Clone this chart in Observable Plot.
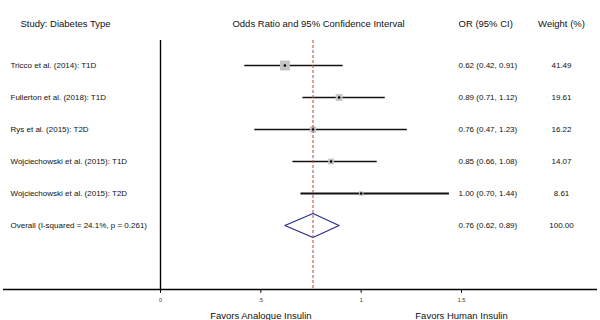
<!DOCTYPE html>
<html><head><meta charset="utf-8">
<script src="https://cdn.jsdelivr.net/npm/d3@7"></script>
<script src="https://cdn.jsdelivr.net/npm/@observablehq/plot@0.6"></script>
<style>body{margin:0;background:#fff} svg{display:block}</style>
</head><body><div id="chart"></div>
<script>
// ---- data ----
const studies = ["Tricco et al. (2014): T1D", "Fullerton et al. (2018): T1D", "Rys et al. (2015): T2D", "Wojciechowski et al. (2015): T1D", "Wojciechowski et al. (2015): T2D"];
const oddsRatio = [0.62, 0.89, 0.76, 0.85, 1.00];
const ciLow = [0.42, 0.71, 0.47, 0.66, 0.70];
const ciHigh = [0.91, 1.12, 1.23, 1.08, 1.44];
const weights = [41.49, 19.61, 16.22, 14.07, 8.61];
const overallLabel = "Overall (I-squared = 24.1%, p = 0.261)";
const overallOR = [0.76];
const overallLow = [0.62];
const overallHigh = [0.89];
const overallWeight = [100.00];
const xTicks = [0, 0.5, 1, 1.5];
const xTickLabels = ["0", ".5", "1", "1.5"];
const headers = ["Study: Diabetes Type", "Odds Ratio and 95% Confidence Interval", "OR (95% CI)", "Weight (%)"];
const sideLabels = ["Favors Analogue Insulin", "Favors Human Insulin"];
const sideAt = [0.5, 1.5];

// ---- build tables ----
const fmt = d3.format(".2f");
const rows = studies.map((s, i) => ({study: s, or: oddsRatio[i], lo: ciLow[i], hi: ciHigh[i], w: weights[i], row: i + 1}));
const overallRow = studies.length + 1;
const ciText = (o, l, h) => `${fmt(o)} (${fmt(l)}, ${fmt(h)})`;
const textRows = [
  ...rows.map(d => ({label: d.study, ci: ciText(d.or, d.lo, d.hi), w: fmt(d.w), row: d.row})),
  {label: overallLabel, ci: ciText(overallOR[0], overallLow[0], overallHigh[0]), w: fmt(overallWeight[0]), row: overallRow}
];
const dh = 0.375;
const diamond = [
  {x: overallLow[0], y: overallRow},
  {x: overallOR[0], y: overallRow - dh},
  {x: overallHigh[0], y: overallRow},
  {x: overallOR[0], y: overallRow + dh},
  {x: overallLow[0], y: overallRow}
];
const axisRow = 8, topRow = 0.22;
const pxPerUnit = 200.67;
const font = "Liberation Sans, Arial, sans-serif";

const chart = Plot.plot({
  width: 600, height: 320,
  marginTop: 0, marginBottom: 0, marginLeft: 0, marginRight: 0,
  style: {fontFamily: font, background: "#fff"},
  x: {domain: [-160 / pxPerUnit, 440 / pxPerUnit], axis: null},
  y: {domain: [1 - 65 / 32, 1 + 255 / 32], range: [0, 320], axis: null},
  r: {type: "sqrt", domain: [0, d3.max(weights)], range: [0, 5.6]},
  marks: [
    Plot.ruleY([axisRow], {stroke: "#000", strokeWidth: 1.6, insetLeft: 3, insetRight: 3}),
    Plot.ruleX([0], {y1: topRow, y2: axisRow, stroke: "#000", strokeWidth: 1.4}),
    Plot.ruleX(xTicks, {y1: axisRow, y2: axisRow + 0.12, stroke: "#000", strokeWidth: 1}),
    Plot.ruleY(rows.slice(0, 4), {x1: "lo", x2: "hi", y: "row", stroke: "#111", strokeWidth: 1.3}),
    Plot.ruleY(rows.slice(4), {x1: "lo", x2: "hi", y: "row", stroke: "#111", strokeWidth: 2}),
    Plot.dot(rows, {x: "or", y: "row", r: "w", symbol: "square", fill: "#c4c4c4", stroke: "none"}),
    Plot.dot(rows, {x: "or", y: "row", r: 1.3, fill: "#000", stroke: "none"}),
    Plot.line(diamond, {x: "x", y: "y", stroke: "#2b2f8c", strokeWidth: 1.3, fill: "#fff"}),
    Plot.ruleX(overallOR, {y1: topRow, y2: axisRow, stroke: "#c0504d", strokeWidth: 1.1, strokeDasharray: "3,2"}),
    // headers
    Plot.text([headers[0]], {frameAnchor: "top-left", dx: 20, dy: 20, textAnchor: "start", fontSize: 9.5, fill: "#111"}),
    Plot.text([headers[1]], {frameAnchor: "top-left", dx: 318, dy: 20, textAnchor: "middle", fontSize: 9.5, fill: "#111"}),
    Plot.text([headers[2]], {frameAnchor: "top-left", dx: 458, dy: 20, textAnchor: "start", fontSize: 9.5, fill: "#111"}),
    Plot.text([headers[3]], {frameAnchor: "top-left", dx: 561, dy: 20, textAnchor: "middle", fontSize: 9.5, fill: "#111"}),
    // row texts
    Plot.text(textRows, {y: "row", text: "label", frameAnchor: "left", dx: 10, textAnchor: "start", fontSize: 8, fill: "#111"}),
    Plot.text(textRows, {y: "row", text: "ci", frameAnchor: "left", dx: 458, textAnchor: "start", fontSize: 8, fill: "#111"}),
    Plot.text(textRows, {y: "row", text: "w", frameAnchor: "left", dx: 561, textAnchor: "middle", fontSize: 8, fill: "#111"}),
    // tick labels
    Plot.text(xTicks, {x: d => d, y: () => axisRow, text: (d, i) => xTickLabels[i], dy: 11, fontSize: 5.5, fill: "#333"}),
    // side labels
    Plot.text(sideLabels, {x: (d, i) => sideAt[i], y: () => axisRow, text: d => d, dy: 26, fontSize: 9.5, fill: "#111"})
  ]
});
document.getElementById("chart").appendChild(chart);
</script>
</body></html>
